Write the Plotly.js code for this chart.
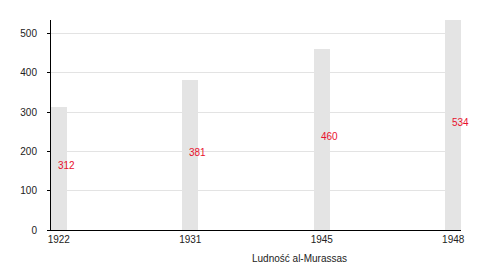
<!DOCTYPE html>
<html>
<head>
<meta charset="utf-8">
<script src="https://cdn.plot.ly/plotly-3.0.1.min.js"></script>
<style>html,body{margin:0;padding:0;background:#fff}#chart{width:500px;height:270px}</style>
</head>
<body>
<div id="chart"></div>
<script>
const years = ["1922", "1931", "1945", "1948"];
const population = [312, 381, 460, 534];
const yTicks = [0, 100, 200, 300, 400, 500];
const axisTitle = "Ludność al-Murassas";

const font = {family: "Liberation Sans, Arial, sans-serif", size: 10, color: "#222"};

const trace = {
  type: "bar",
  x: years,
  y: population,
  width: 0.118,
  marker: {color: "#e4e4e4", line: {width: 0}},
  hoverinfo: "none"
};

const labels = years.map((yr, i) => ({
  x: i, xref: "x", y: population[i] / 2, yref: "y",
  text: String(population[i]), showarrow: false,
  xanchor: "left", yanchor: "middle", xshift: -3, yshift: 3,
  font: {family: font.family, size: 10, color: "#e8112d"}
}));

labels.push({
  x: (250 - 51) / 410, xref: "paper", y: 0, yref: "paper",
  text: axisTitle, showarrow: false, xanchor: "left", yanchor: "top",
  yshift: -21, font: font
});

const layout = {
  width: 500, height: 270,
  margin: {l: 51, r: 39, t: 20, b: 40},
  paper_bgcolor: "#fff", plot_bgcolor: "#fff",
  font: font,
  showlegend: false,
  bargap: 0,
  xaxis: {
    type: "category", range: [-0.059, 3.059],
    showline: true, linecolor: "#000", linewidth: 1,
    showgrid: false, ticks: "", tickfont: font, fixedrange: true
  },
  yaxis: {
    range: [0, 534], tickvals: yTicks,
    showline: true, linecolor: "#000", linewidth: 1,
    showgrid: true, gridcolor: "#e3e3e3", gridwidth: 1,
    zeroline: false, ticks: "outside", ticklen: 3, tickcolor: "#000",
    ticklabelstandoff: 8, tickfont: font, fixedrange: true
  },
  annotations: labels
};

Plotly.newPlot("chart", [trace], layout, {displayModeBar: false, staticPlot: true});
</script>
</body>
</html>
